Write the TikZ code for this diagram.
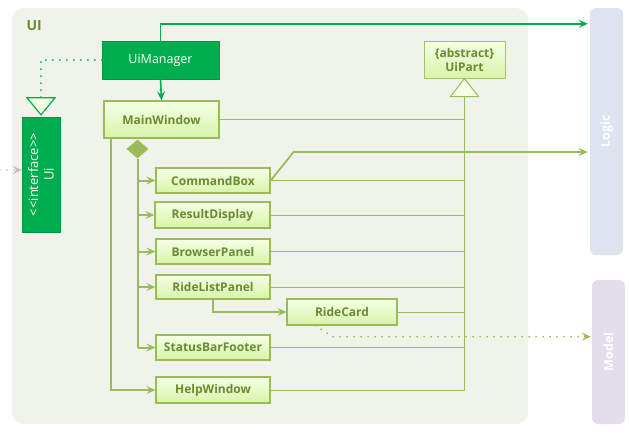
\documentclass[tikz,border=0pt]{standalone}
\usepackage{fontspec}
\setmainfont{Open Sans}
\usetikzlibrary{arrows.meta,shapes.geometric,calc}
\definecolor{panelbg}{HTML}{F0F3E9}
\definecolor{dkgreen}{HTML}{00AD4E}
\definecolor{olive}{HTML}{9BBB59}
\definecolor{olivetxt}{HTML}{6A8A33}
\definecolor{boxtop}{HTML}{F5FFE6}
\definecolor{boxbot}{HTML}{D8F4A8}
\definecolor{logicbg}{HTML}{DCE4F0}
\definecolor{modelbg}{HTML}{E3DEEB}
\tikzset{
  lightbox/.style={draw=olive, line width=1.3pt, top color=boxtop, bottom color=boxbot,
    text=olivetxt, font=\fontsize{12}{14}\selectfont\bfseries, inner sep=0pt, align=center},
  darkbox/.style={fill=dkgreen, draw=dkgreen!80!black!60!dkgreen, text=white,
    font=\fontsize{12.5}{14}\selectfont, inner sep=0pt, align=center},
  layerbox/.style={rounded corners=6pt, text=white, font=\fontsize{12}{14}\selectfont\bfseries, inner sep=0pt},
  thinline/.style={draw=olive, line width=1pt},
  thickline/.style={draw=olive, line width=2pt},
  tipo/.style={-{Stealth[length=9pt,width=8pt,inset=3.5pt]}},
}
\begin{document}
\begin{tikzpicture}[x=1pt,y=-1pt]
\useasboundingbox (0,0) rectangle (629,434);
% panel
\fill[panelbg, rounded corners=12pt] (12,8) rectangle (528,424);
\node[text=olivetxt, font=\fontsize{14}{16}\selectfont\bfseries, anchor=west] (uilabel) at (23,26) {UI};
% layers
\node[layerbox, fill=logicbg, minimum width=33pt, minimum height=247pt] (logic) at (606.5,131.5) {};
\node[rotate=90, text=white, font=\fontsize{12.5}{14}\selectfont\bfseries] (logictxt) at (logic.center) {Logic};
\node[layerbox, fill=modelbg, minimum width=33pt, minimum height=144pt] (model) at (608.5,352) {};
\node[rotate=90, text=white, font=\fontsize{12.5}{14}\selectfont\bfseries] (modeltxt) at (model.center) {Model};
% nodes
\node[darkbox, minimum width=117pt, minimum height=38pt] (uimgr) at (160.5,60) {UiManager};
\node[darkbox, minimum width=38pt, minimum height=115pt] (ui) at (41,174.5) {};
\node[rotate=90, text=white, font=\fontsize{13}{15.5}\selectfont, align=center] (uitxt) at (ui.center) {<{}<interface>{}>\\Ui};
\node[lightbox, minimum width=115pt, minimum height=37pt] (mainw) at (161.5,119.5) {MainWindow};
\node[lightbox, minimum width=81pt, minimum height=37pt, draw=olive!90, line width=1pt] (uipart) at (464.5,59.5) {\{abstract\}\\UiPart};
\node[lightbox, minimum width=114pt, minimum height=25pt] (cmd) at (213,180.5) {CommandBox};
\node[lightbox, minimum width=115pt, minimum height=26pt] (res) at (212.5,215) {ResultDisplay};
\node[lightbox, minimum width=114pt, minimum height=25pt] (brw) at (213,251.5) {BrowserPanel};
\node[lightbox, minimum width=114pt, minimum height=24pt] (rlp) at (213,287) {RideListPanel};
\node[lightbox, minimum width=110pt, minimum height=26pt] (rc) at (342,312) {RideCard};
\node[lightbox, minimum width=114pt, minimum height=25pt] (sbf) at (213,347.5) {StatusBarFooter};
\node[lightbox, minimum width=114pt, minimum height=26pt] (help) at (213,390) {HelpWindow};
\node[diamond, fill=olive, inner sep=0pt, minimum width=22pt, minimum height=19pt] (dia) at (137.5,149) {};
% generalisation to UiPart
\coordinate (tb) at ($(uipart.south)+(0,18)$);
\draw[olive, line width=1pt, fill=boxtop] (uipart.south) -- ($(tb)+(-14,0)$) -- ($(tb)+(14,0)$) -- cycle;
\draw[thinline] (tb) -- (tb |- help.east);
\foreach \n in {mainw,cmd,res,brw,rlp,rc,sbf,help}
  \draw[thinline] (\n.east) -- (\n.east -| tb);
% Ui interface realisation
\coordinate (ua) at ($(ui.north)+(0,-2)$);
\draw[dkgreen, line width=1.2pt, fill=boxtop] (ua) -- ($(ua)+(-14,-17)$) -- ($(ua)+(14,-17)$) -- cycle;
\draw[dkgreen, line width=2pt, dash pattern=on 0pt off 7pt, line cap=round] (uimgr.west) -| ($(ua)+(0,-17)$);
% incoming to Ui
\coordinate (ext) at (0,170);
\draw[gray!50, line width=1.6pt, dash pattern=on 0pt off 7pt, line cap=round, tipo] (ext) -- (ext -| ui.west);
% UiManager arrows
\coordinate (t1) at ($(uimgr.north)+(0,-17)$);
\draw[dkgreen, line width=1.6pt, tipo] (uimgr.north) -- (t1) -- ($(t1 -| logic.west)+(-2,0)$);
\draw[dkgreen, line width=1.6pt, tipo] (uimgr.south) -- (mainw.north);
% composition
\draw[thickline] (dia.south) -- (dia.south |- sbf.west);
\foreach \n in {cmd,res,brw,rlp,sbf}
  \draw[olive, line width=2pt, tipo] (dia.south |- \n.west) -- (\n.west);
\coordinate (mw) at ($(mainw.south west)+(8,0)$);
\draw[olive, line width=2pt, tipo] (mw) |- (help.west);
% RideListPanel -> RideCard
\draw[olive, line width=2pt, tipo] (rlp.south) |- (rc.west);
% CommandBox -> Logic
\coordinate (c1) at ($(cmd.east)+(23,-28.5)$);
\draw[olive, line width=1.8pt, tipo] (cmd.east) -- (c1) -- ($(c1 -| logic.west)+(-2,0)$);
% RideCard -> Model
\coordinate (r1) at ($(rc.south west)+(29,0)$);
\coordinate (r2) at ($(r1)+(17,11)$);
\draw[olive, line width=2pt, dash pattern=on 0pt off 7pt, line cap=round] (r1) -- (r2) -- ($(r2 -| model.west)+(-6,0)$);
\draw[olive, line width=1.5pt, tipo] ($(r2 -| model.west)+(-8,0)$) -- ($(r2 -| model.west)+(-1,0)$);
\end{tikzpicture}
\end{document}
